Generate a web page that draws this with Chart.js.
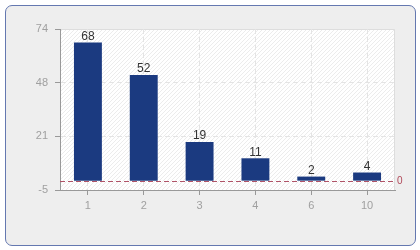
<!DOCTYPE html>
<html>
<head>
<meta charset="utf-8">
<script src="https://cdn.jsdelivr.net/npm/chart.js@4/dist/chart.umd.min.js"></script>
<style>
  html, body { margin: 0; padding: 0; background: #ffffff; }
  #box {
    position: absolute; left: 5px; top: 5px; width: 409px; height: 239px;
    background: #eeeeee; border: 1px solid #6478b0; border-radius: 7px;
  }
  #wrap { position: absolute; left: 0; top: 0; width: 420px; height: 250px; }
</style>
</head>
<body>
<div id="box"></div>
<div id="wrap"><canvas id="chart" width="420" height="250"></canvas></div>
<script>
// Chart data
const categories = ['1', '2', '3', '4', '6', '10'];
const counts = [68, 52, 19, 11, 2, 4];
// axis runs a little past the rounded tick labels
const yMin = -4.6;
const yMax = 74.6;
const yTickLabels = ['-5', '21', '48', '74'];
const refValue = 0;

const FONT = '"Liberation Sans", Tahoma, sans-serif';

// faint diagonal hatch for the plot background
function makeHatch(ctx) {
    const p = document.createElement('canvas');
    p.width = 4; p.height = 4;
    const c = p.getContext('2d');
    c.fillStyle = '#ffffff';
    c.fillRect(0, 0, 4, 4);
    c.strokeStyle = '#ececec';
    c.lineWidth = 1;
    c.beginPath();
    c.moveTo(0, 4); c.lineTo(4, 0);
    c.moveTo(-1, 1); c.lineTo(1, -1);
    c.moveTo(3, 5); c.lineTo(5, 3);
    c.stroke();
    return ctx.createPattern(p, 'repeat');
}

const plotBackground = {
    id: 'plotBackground',
    beforeDraw(chart) {
        const { ctx, chartArea: a } = chart;
        ctx.save();
        ctx.fillStyle = makeHatch(ctx);
        ctx.fillRect(a.left, a.top, a.right - a.left, a.bottom - a.top);
        ctx.strokeStyle = '#dddddd';
        ctx.lineWidth = 1;
        ctx.beginPath();
        ctx.moveTo(a.left, a.top + 0.5);
        ctx.lineTo(a.right - 0.5, a.top + 0.5);
        ctx.lineTo(a.right - 0.5, a.bottom);
        ctx.stroke();
        ctx.restore();
    }
};

const refLine = {
    id: 'refLine',
    beforeDatasetsDraw(chart) {
        const { ctx, chartArea: a } = chart;
        const y = Math.round(chart.scales.y.getPixelForValue(refValue)) + 0.5;
        ctx.save();
        ctx.strokeStyle = '#b05468';
        ctx.lineWidth = 1;
        ctx.setLineDash([5, 3]);
        ctx.beginPath();
        ctx.moveTo(a.left, y);
        ctx.lineTo(a.right, y);
        ctx.stroke();
        ctx.setLineDash([]);
        ctx.fillStyle = '#b04858';
        ctx.font = '10px ' + FONT;
        ctx.textAlign = 'left';
        ctx.textBaseline = 'middle';
        ctx.fillText(String(refValue), a.right + 2, y);
        ctx.restore();
    }
};

const valueLabels = {
    id: 'valueLabels',
    afterDatasetsDraw(chart) {
        const { ctx } = chart;
        const meta = chart.getDatasetMeta(0);
        ctx.save();
        ctx.fillStyle = '#333333';
        ctx.font = '12px ' + FONT;
        ctx.textAlign = 'center';
        ctx.textBaseline = 'bottom';
        meta.data.forEach((bar, i) => {
            ctx.fillText(String(counts[i]), bar.x, bar.y);
        });
        ctx.restore();
    }
};

new Chart(document.getElementById('chart'), {
    type: 'bar',
    data: {
        labels: categories,
        datasets: [{
            data: counts,
            backgroundColor: '#1b3a80',
            borderWidth: 0,
            categoryPercentage: 1,
            barPercentage: 0.5
        }]
    },
    options: {
        responsive: false,
        animation: false,
        events: [],
        layout: { padding: { top: 29, right: 25, bottom: 0, left: 0 } },
        plugins: {
            legend: { display: false },
            tooltip: { enabled: false }
        },
        scales: {
            x: {
                offset: true,
                grid: {
                    offset: false,
                    color: '#e4e4e4',
                    tickColor: '#999999',
                    tickLength: 5,
                    drawOnChartArea: true
                },
                border: { color: '#999999', width: 1, dash: [5, 3] },
                ticks: { color: '#a0a0a0', font: { family: FONT, size: 11 }, padding: 4 },
                afterFit(s) { s.height = 60; }
            },
            y: {
                min: yMin,
                max: yMax,
                afterBuildTicks(s) {
                    const step = (yMax - yMin) / (yTickLabels.length - 1);
                    s.ticks = yTickLabels.map((t, i) => ({ value: yMin + i * step }));
                },
                grid: {
                    color: (c) => (c.tick && c.index === yTickLabels.length - 1 ? 'rgba(0,0,0,0)' : '#e4e4e4'),
                    tickColor: '#999999',
                    tickLength: 5
                },
                border: {
                    color: '#999999',
                    width: 1,
                    dash: (c) => (c.tick && c.index === yTickLabels.length - 1 ? [] : [5, 3])
                },
                ticks: {
                    color: '#a0a0a0',
                    font: { family: FONT, size: 11 },
                    padding: 7,
                    callback: (v, i) => yTickLabels[i]
                },
                afterFit(s) { s.width = 60; }
            }
        }
    },
    plugins: [plotBackground, refLine, valueLabels]
});
</script>
</body>
</html>
